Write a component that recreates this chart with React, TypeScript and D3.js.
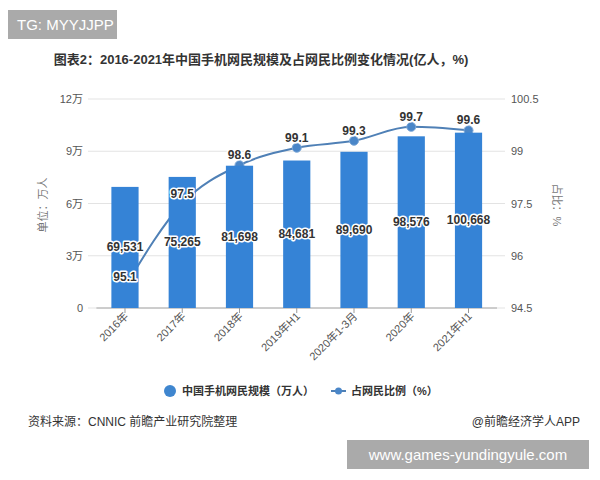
import React from "react";
import * as d3 from "d3";

const categories = ["2016年", "2017年", "2018年", "2019年H1", "2020年1-3月", "2020年", "2021年H1"];
const users = [69531, 75265, 81698, 84681, 89690, 98576, 100668];
const share = [95.1, 97.5, 98.6, 99.1, 99.3, 99.7, 99.6];
const leftTicks = [0, 30000, 60000, 90000, 120000];
const leftTickLabels = ["0", "3万", "6万", "9万", "12万"];
const rightTicks = [94.5, 96, 97.5, 99, 100.5];

const W = 600;
const H = 480;
const FONT = "'Liberation Sans', 'Noto Sans CJK SC', sans-serif";
const BAR = "#3583d6";
const LINE = "#4f80b6";

export default function App() {
  const x = d3.scaleBand<string>().domain(categories).range([96.5, 497]).paddingInner(0.525).paddingOuter(0.26);
  const yL = d3.scaleLinear().domain([0, 120000]).range([308, 99]);
  const yR = d3.scaleLinear().domain([94.5, 100.5]).range([308, 99]);
  const cx = (c: string) => (x(c) ?? 0) + x.bandwidth() / 2;

  const linePath = d3
    .line<number>()
    .x((_, i) => cx(categories[i]))
    .y((d) => yR(d))
    .curve(d3.curveMonotoneX)(share) ?? "";

  const fmt = d3.format(",");
  const halo = { stroke: "#fff", strokeWidth: 3, paintOrder: "stroke" as const, strokeLinejoin: "round" as const };

  return (
    <svg width={W} height={H} style={{ position: "absolute", left: 0, top: 0, background: "#fff" }} fontFamily={FONT}>
      {/* top-left tag */}
      <rect x={8} y={10} width={109} height={29} fill="#aaaaaa" />
      <text x={17} y={30} fontSize={15} fill="#fff">TG: MYYJJPP</text>

      {/* title */}
      <text x={261} y={64} textAnchor="middle" fontSize={13} fontWeight="bold" fill="#333">
        图表2：2016-2021年中国手机网民规模及占网民比例变化情况(亿人，%)
      </text>

      {/* grid */}
      {leftTicks.slice(1).map((t) => (
        <line key={t} x1={88} x2={505} y1={yL(t)} y2={yL(t)} stroke="#e3e3e3" strokeWidth={1} />
      ))}
      <line x1={88} x2={97} y1={yL(0)} y2={yL(0)} stroke="#e3e3e3" />
      <line x1={497} x2={505} y1={yL(0)} y2={yL(0)} stroke="#e3e3e3" />
      <line x1={96.5} x2={497} y1={yL(0)} y2={yL(0)} stroke="#9a9a9a" />

      {/* left axis labels */}
      {leftTicks.map((t, i) => (
        <text key={t} x={83} y={yL(t) + 4} textAnchor="end" fontSize={11} fill="#555">
          {leftTickLabels[i]}
        </text>
      ))}
      {/* right axis labels */}
      {rightTicks.map((t) => (
        <text key={t} x={511} y={yR(t) + 4} fontSize={11} fill="#555">
          {t}
        </text>
      ))}
      <text transform="translate(47,205) rotate(-90)" textAnchor="middle" fontSize={11} fill="#777">单位：万人</text>
      <text transform="translate(553,205) rotate(90)" textAnchor="middle" fontSize={11} fill="#777">占比：%</text>

      {/* x ticks and labels */}
      {categories.map((c) => (
        <g key={c}>
          <line x1={cx(c)} x2={cx(c)} y1={308} y2={313} stroke="#9a9a9a" />
          <text
            transform={`translate(${cx(c) + 4},${317}) rotate(-45)`}
            textAnchor="end"
            fontSize={11}
            fill="#555"
          >
            {c}
          </text>
        </g>
      ))}

      {/* share line, behind the bars */}
      <path d={linePath} fill="none" stroke={LINE} strokeWidth={2} />
      {share.map((v, i) => (
        <circle key={i} cx={cx(categories[i])} cy={yR(v)} r={4.5} fill="#4a86c8" stroke="#7ea9d8" strokeWidth={1} />
      ))}

      {/* bars */}
      {users.map((v, i) => (
        <rect
          key={i}
          x={x(categories[i])}
          y={yL(v)}
          width={x.bandwidth()}
          height={yL(0) - yL(v)}
          fill={BAR}
        />
      ))}

      {/* bar value labels */}
      {users.map((v, i) => (
        <text
          key={i}
          x={cx(categories[i])}
          y={(yL(v) + yL(0)) / 2 + 4}
          textAnchor="middle"
          fontSize={12}
          fontWeight="bold"
          fill="#333"
          {...halo}
        >
          {fmt(v)}
        </text>
      ))}
      {/* share labels */}
      {share.map((v, i) => (
        <text
          key={i}
          x={cx(categories[i])}
          y={yR(v) - 6}
          textAnchor="middle"
          fontSize={12}
          fontWeight="bold"
          fill="#333"
          {...halo}
        >
          {v}
        </text>
      ))}

      {/* legend */}
      <circle cx={170} cy={391} r={6} fill="#3f86cf" />
      <text x={182} y={395} fontSize={11} fontWeight="bold" fill="#333">中国手机网民规模（万人）</text>
      <line x1={331} x2={346} y1={391} y2={391} stroke={LINE} strokeWidth={2} />
      <circle cx={338.5} cy={391} r={3.5} fill="#4a86c8" />
      <text x={351} y={395} fontSize={11} fontWeight="bold" fill="#333">占网民比例（%）</text>

      {/* footer */}
      <text x={28} y={426} fontSize={12} fill="#333">资料来源：CNNIC 前瞻产业研究院整理</text>
      <text x={580} y={426} textAnchor="end" fontSize={12} fill="#333">@前瞻经济学人APP</text>

      {/* bottom-right tag */}
      <rect x={347} y={440} width={242} height={29} fill="#aaaaaa" />
      <text x={468} y={460} textAnchor="middle" fontSize={15} fill="#fff">www.games-yundingyule.com</text>
    </svg>
  );
}
